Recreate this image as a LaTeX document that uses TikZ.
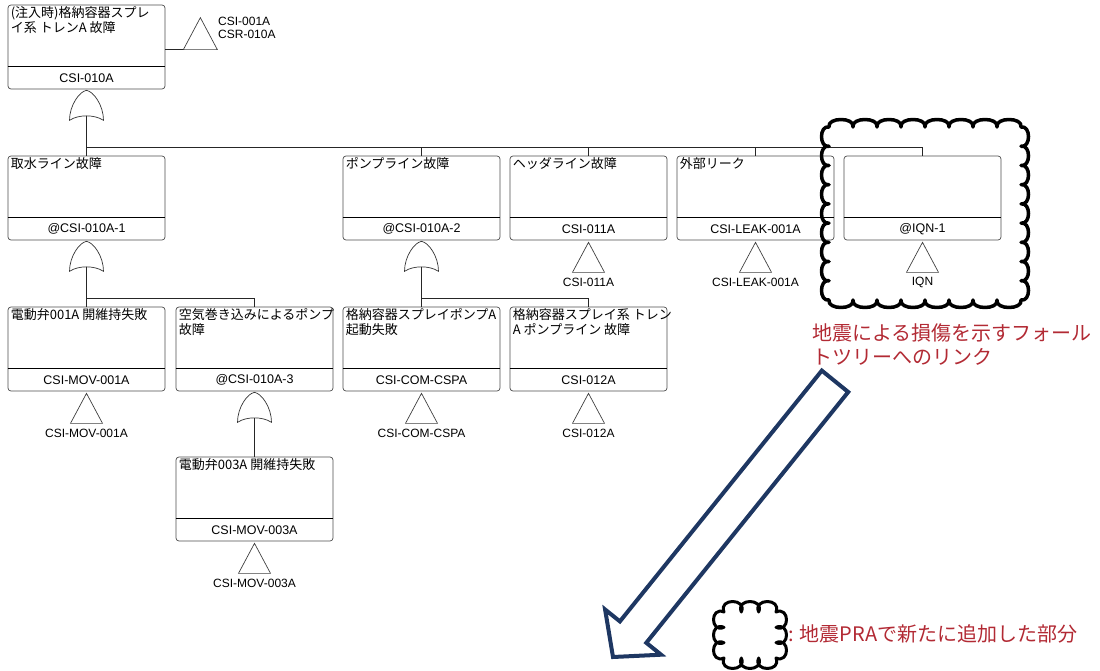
\documentclass[tikz,border=0pt]{standalone}
\usepackage{fontspec}
\newfontfamily\jp{Noto Sans CJK JP}
\newfontfamily\lat{Liberation Sans}
\usetikzlibrary{calc}
\definecolor{redtxt}{RGB}{178,42,52}
\definecolor{arrowblue}{RGB}{30,55,98}
\tikzset{
 ftb/.style={draw=black!70, line width=0.7pt, rounded corners=3pt, minimum width=157pt, minimum height=84pt, inner sep=0pt},
 ttl/.style={anchor=north west, inner sep=0pt, align=left, font=\jp\fontsize{13}{15}\selectfont},
 lbl/.style={inner sep=0pt, font=\lat\fontsize{12.5}{14}\selectfont},
 divl/.style={line width=1.2pt, black},
 gateline/.style={draw=black!80, line width=0.7pt},
 trl/.style={draw=black!75, line width=0.7pt, line join=miter},
 xtxt/.style={inner sep=0pt, font=\lat\fontsize{12}{14}\selectfont},
 conn/.style={black!85, line width=0.8pt},
 cloudline/.style={black, line width=3.5pt, line cap=round, line join=round},
}
\newcommand\ftbox[5]{%
 \node[ftb] (#1) at ({#2+78.5},{#3+42}) {};
 \node[ttl] (#1t) at ($(#1.north west)+(3,2)$) {#4};
 \draw[divl] ($(#1.south west)+(0,-23)$) -- ($(#1.south east)+(0,-23)$);
 \node[lbl] (#1l) at ($(#1.south)+(0,-11.5)$) {#5};
}
\newcommand\orgate[2]{%
 \begin{scope}[shift={(#1.south)}]
  \draw[gateline] (-17,31) .. controls (-17,16) and (-7,2) .. (0,1)
     .. controls (7,2) and (17,16) .. (17,31)
     .. controls (8,25) and (-8,25) .. cycle;
  \coordinate (#2) at (0,26.5);
 \end{scope}}
\newcommand\xfer[3]{%
 \begin{scope}[shift={(#1.south)}]
  \draw[trl] (0,2) -- (16,32) -- (-16,32) -- cycle;
  \node[xtxt] (#2) at (0,42) {#3};
 \end{scope}}
\begin{document}
\begin{tikzpicture}[x=1pt,y=-1pt]
\useasboundingbox (0,0) rectangle (1100,671);
% boxes
\ftbox{c0}{8}{5}{(注入時)格納容器スプレ\\イ系 トレンA 故障}{CSI-010A}
\ftbox{c1}{8}{156}{取水ライン故障}{@CSI-010A-1}
\ftbox{c2}{343}{156}{ポンプライン故障}{@CSI-010A-2}
\ftbox{c3}{510}{156}{ヘッダライン故障}{CSI-011A}
\ftbox{c4}{677}{156}{外部リーク}{CSI-LEAK-001A}
\ftbox{c5}{844}{156}{}{@IQN-1}
\ftbox{c6}{8}{307}{電動弁001A 開維持失敗}{CSI-MOV-001A}
\ftbox{c7}{176}{307}{空気巻き込みによるポンプ\\故障}{@CSI-010A-3}
\ftbox{c8}{343}{307}{格納容器スプレイポンプA\\起動失敗}{CSI-COM-CSPA}
\ftbox{c9}{510}{307}{格納容器スプレイ系 トレン\\A ポンプライン 故障}{CSI-012A}
\ftbox{c10}{176}{457}{電動弁003A 開維持失敗}{CSI-MOV-003A}
% gates
\orgate{c0}{g0}
\orgate{c1}{g1}
\orgate{c2}{g2}
\orgate{c7}{g3}
% transfers
\xfer{c3}{t3}{CSI-011A}
\xfer{c4}{t4}{CSI-LEAK-001A}
\xfer{c5}{t5}{IQN}
\xfer{c6}{t6}{CSI-MOV-001A}
\xfer{c8}{t8}{CSI-COM-CSPA}
\xfer{c9}{t9}{CSI-012A}
\xfer{c10}{t10}{CSI-MOV-003A}
% top transfer
\draw[conn] ($(c0.north east)+(0,45)$) -- ++(18,0) coordinate (tb);
\draw[trl] (tb) -- ++(34,0) -- ++(-17,-32) -- cycle;
\node[xtxt, anchor=north west, align=left, font=\lat\fontsize{12}{13}\selectfont] (t0) at (218,17) {CSI-001A\\CSR-010A};
% connectors
\draw[conn] (g0) -- (c1.north);
\draw[conn] ($(c1.north)+(0,-8)$) -| (c5.north);
\foreach \c in {c2,c3,c4} \draw[conn] (\c.north) -- ++(0,-8);
\draw[conn] (g1) -- (c6.north);
\draw[conn] ($(c6.north)+(0,-8)$) -| (c7.north);
\draw[conn] (g2) -- (c8.north);
\draw[conn] ($(c8.north)+(0,-8)$) -| (c9.north);
\draw[conn] (g3) -- (c10.north);
% big cloud (shallow scallops)
\draw[cloudline]
  \foreach \i in {0,...,7} {({829+24*\i},127) .. controls +(-2,-10) and +(2,-10) .. ({829+24*(\i+1)},127)}
  \foreach \i in {0,...,8} {(1021,{127+19.222*\i}) .. controls +(10,-2) and +(10,2) .. (1021,{127+19.222*(\i+1)})}
  \foreach \i in {0,...,7} {({1021-24*\i},300) .. controls +(2,10) and +(-2,10) .. ({1021-24*(\i+1)},300)}
  \foreach \i in {0,...,8} {(829,{300-19.222*\i}) .. controls +(-10,2) and +(-10,-2) .. (829,{300-19.222*(\i+1)})};
% note
\node[anchor=west, inner sep=0pt, align=left, text=redtxt, font=\jp\fontsize{20}{24}\selectfont] (note) at (812,345) {地震による損傷を示すフォール\\トツリーへのリンク};
% big arrow
\draw[arrowblue, line width=4pt, line join=miter] (821.8,370.6) -- (848.2,392) -- (646.3,642.8) -- (661.1,654.7) -- (613,657) -- (605.1,609.5) -- (619.9,621.4) -- cycle;
% legend cloud
\draw[cloudline, line width=3pt]
  \foreach \i in {0,...,2} {({724+17.33*\i},612) .. controls +(-6,-14) and +(6,-14) .. ({724+17.33*(\i+1)},612)}
  \foreach \i in {0,...,2} {(776,{612+15.33*\i}) .. controls +(14,-6) and +(14,6) .. (776,{612+15.33*(\i+1)})}
  \foreach \i in {0,...,2} {({776-17.33*\i},658) .. controls +(6,14) and +(-6,14) .. ({776-17.33*(\i+1)},658)}
  \foreach \i in {0,...,2} {(724,{658-15.33*\i}) .. controls +(-14,6) and +(-14,-6) .. (724,{658-15.33*(\i+1)})};
\node[anchor=west, inner sep=0pt, text=redtxt, font=\jp\fontsize{20}{24}\selectfont] (legend) at (788,634) {: 地震PRAで新たに追加した部分};
\end{tikzpicture}
\end{document}
